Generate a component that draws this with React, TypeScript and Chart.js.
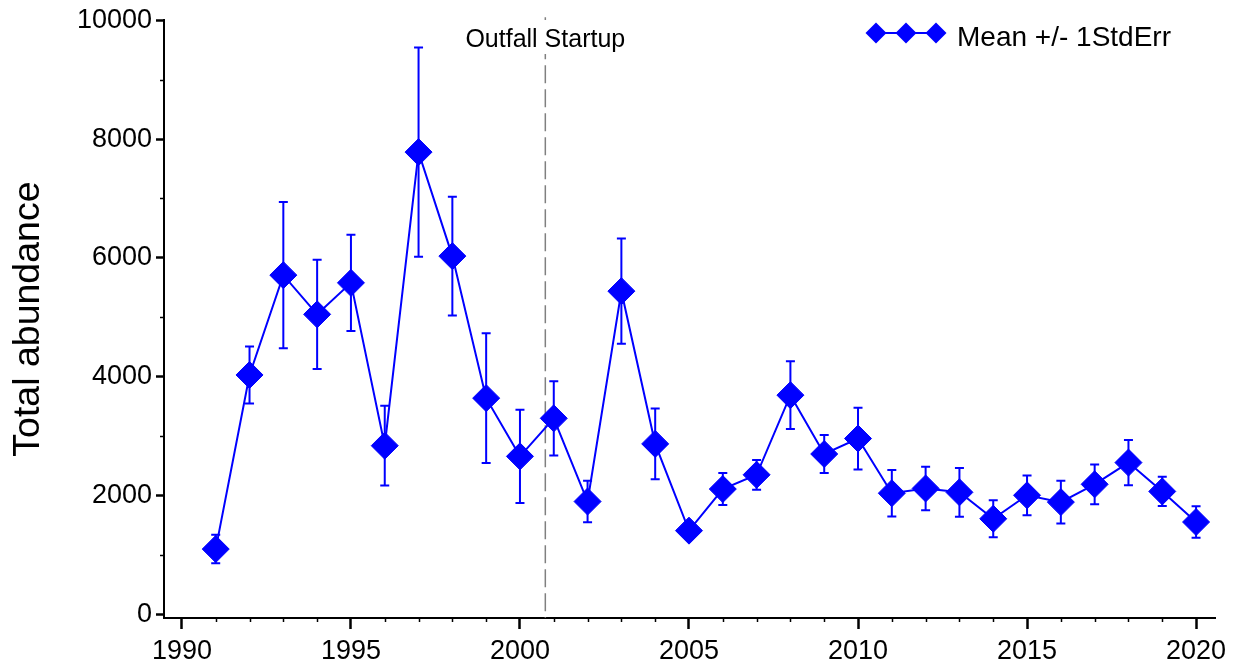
import React, { useEffect, useRef } from "react";
import { Chart, registerables } from "chart.js";

Chart.register(...registerables);

const years = [
  1991, 1992, 1993, 1994, 1995, 1996, 1997, 1998, 1999, 2000,
  2001, 2002, 2003, 2004, 2005, 2006, 2007, 2008, 2009, 2010,
  2011, 2012, 2013, 2014, 2015, 2016, 2017, 2018, 2019, 2020,
];
const means = [
  1100, 4030, 5710, 5050, 5580, 2840, 7780, 6030, 3640, 2660,
  3300, 1900, 5440, 2870, 1410, 2110, 2350, 3690, 2700, 2960,
  2040, 2120, 2055, 1610, 2005, 1890, 2190, 2555, 2070, 1555,
];
const stdErrs = [
  240, 480, 1230, 920, 810, 670, 1760, 1000, 1090, 785,
  625, 350, 885, 595, 130, 270, 250, 570, 320, 520,
  390, 365, 410, 310, 335, 360, 335, 380, 245, 265,
];
const xTickValues = [1990, 1995, 2000, 2005, 2010, 2015, 2020];
const yTickValues = [0, 2000, 4000, 6000, 8000, 10000];
const xMin = 1989.47;
const xMax = 2020.56;
const yMin = -60;
const yMax = 10000;
const outfallYear = 2000.75;
const outfallLabel = "Outfall Startup";
const seriesLabel = "Mean +/- 1StdErr";
const yTitle = "Total abundance";

const BLUE = "#0000ff";
const FAMILY = "'Liberation Sans', Arial, sans-serif";

const overlayPlugin = {
  id: "overlay",
  beforeDatasetsDraw(chart: any) {
    const { ctx, chartArea, scales } = chart;
    const x = scales.x;
    const y = scales.y;
    ctx.save();
    // outfall dashed line
    const lx = x.getPixelForValue(outfallYear);
    ctx.strokeStyle = "#808080";
    ctx.lineWidth = 1.5;
    ctx.setLineDash([18, 6]);
    ctx.beginPath();
    ctx.moveTo(lx, chartArea.top - 3);
    ctx.lineTo(lx, chartArea.bottom);
    ctx.stroke();
    ctx.setLineDash([]);
    ctx.font = `25px ${FAMILY}`;
    const tw = ctx.measureText(outfallLabel).width;
    ctx.fillStyle = "#ffffff";
    ctx.fillRect(lx - tw / 2 - 2, 20, tw + 4, 34);
    ctx.fillStyle = "#000000";
    ctx.textAlign = "center";
    ctx.textBaseline = "alphabetic";
    ctx.fillText(outfallLabel, lx, 47);
    // error bars
    ctx.strokeStyle = BLUE;
    ctx.lineWidth = 2;
    years.forEach((yr, i) => {
      const px = x.getPixelForValue(yr);
      const top = y.getPixelForValue(means[i] + stdErrs[i]);
      const bot = y.getPixelForValue(means[i] - stdErrs[i]);
      ctx.beginPath();
      ctx.moveTo(px, top);
      ctx.lineTo(px, bot);
      ctx.moveTo(px - 4.5, top);
      ctx.lineTo(px + 4.5, top);
      ctx.moveTo(px - 4.5, bot);
      ctx.lineTo(px + 4.5, bot);
      ctx.stroke();
    });
    ctx.restore();
  },
  afterDraw(chart: any) {
    const { ctx, chartArea, scales } = chart;
    const x = scales.x;
    const y = scales.y;
    ctx.save();
    // minor ticks
    ctx.strokeStyle = "#000000";
    ctx.lineWidth = 1.5;
    for (let yr = 1990; yr <= 2020; yr++) {
      if (yr % 5 === 0) continue;
      const px = Math.round(x.getPixelForValue(yr)) + 0.5;
      ctx.beginPath();
      ctx.moveTo(px, chartArea.bottom + 1);
      ctx.lineTo(px, chartArea.bottom + 4);
      ctx.stroke();
    }
    for (let v = 1000; v < 10000; v += 2000) {
      const py = Math.round(y.getPixelForValue(v)) + 0.5;
      ctx.beginPath();
      ctx.moveTo(chartArea.left - 4, py);
      ctx.lineTo(chartArea.left, py);
      ctx.stroke();
    }
    // legend
    const ly = 33;
    const lxs = [876, 906, 936];
    ctx.strokeStyle = BLUE;
    ctx.lineWidth = 2;
    ctx.beginPath();
    ctx.moveTo(lxs[0], ly);
    ctx.lineTo(lxs[2], ly);
    ctx.stroke();
    ctx.fillStyle = BLUE;
    lxs.forEach((cx) => {
      const r = 10.5;
      ctx.beginPath();
      ctx.moveTo(cx - r, ly);
      ctx.lineTo(cx, ly - r);
      ctx.lineTo(cx + r, ly);
      ctx.lineTo(cx, ly + r);
      ctx.closePath();
      ctx.fill();
    });
    ctx.fillStyle = "#000000";
    ctx.font = `28px ${FAMILY}`;
    ctx.textAlign = "left";
    ctx.textBaseline = "alphabetic";
    ctx.fillText(seriesLabel, 957, 46);
    ctx.restore();
  },
};

export default function App() {
  const canvasRef = useRef<HTMLCanvasElement | null>(null);

  useEffect(() => {
    const canvas = canvasRef.current;
    if (!canvas) return;
    const chart = new Chart(canvas, {
      type: "line",
      data: {
        datasets: [
          {
            label: seriesLabel,
            data: years.map((yr, i) => ({ x: yr, y: means[i] })),
            borderColor: BLUE,
            backgroundColor: BLUE,
            borderWidth: 2,
            tension: 0,
            pointStyle: "rectRot",
            pointRadius: 13.5,
            pointBorderWidth: 1,
            pointBackgroundColor: BLUE,
            pointBorderColor: BLUE,
          },
        ],
      },
      options: {
        responsive: false,
        animation: false,
        devicePixelRatio: 1,
        layout: { padding: { top: 20, right: 22, left: 0, bottom: 0 } },
        plugins: {
          legend: { display: false },
          tooltip: { enabled: false },
        },
        scales: {
          x: {
            type: "linear",
            min: xMin,
            max: xMax,
            afterBuildTicks: (s: any) => {
              s.ticks = xTickValues.map((v) => ({ value: v }));
            },
            afterFit: (s: any) => {
              s.height = 47;
            },
            ticks: {
              callback: (v: any) => String(v),
              font: { size: 27, family: FAMILY },
              color: "#000000",
              padding: 6,
              maxRotation: 0,
              autoSkip: false,
            },
            grid: {
              drawOnChartArea: false,
              drawTicks: true,
              tickLength: 11,
              tickWidth: 2.5,
              tickColor: "#000000",
            },
            border: { display: true, color: "#000000", width: 2 },
          },
          y: {
            type: "linear",
            min: yMin,
            max: yMax,
            afterBuildTicks: (s: any) => {
              s.ticks = yTickValues.map((v) => ({ value: v }));
            },
            afterFit: (s: any) => {
              s.width = 164;
            },
            ticks: {
              callback: (v: any) => String(v),
              font: { size: 27, family: FAMILY },
              color: "#000000",
              padding: 4,
            },
            grid: {
              drawOnChartArea: false,
              drawTicks: true,
              tickLength: 8,
              tickWidth: 2.5,
              tickColor: "#000000",
            },
            border: { display: true, color: "#000000", width: 2 },
            title: {
              display: true,
              text: yTitle,
              color: "#000000",
              font: { size: 37.5, family: FAMILY },
              padding: { top: 6, bottom: 0 },
            },
          },
        },
      },
      plugins: [overlayPlugin],
    } as any);
    return () => chart.destroy();
  }, []);

  return (
    <div style={{ position: "absolute", left: 0, top: 0, width: 1237, height: 665, background: "#ffffff" }}>
      <canvas ref={canvasRef} width={1237} height={665} style={{ display: "block" }} />
    </div>
  );
}
